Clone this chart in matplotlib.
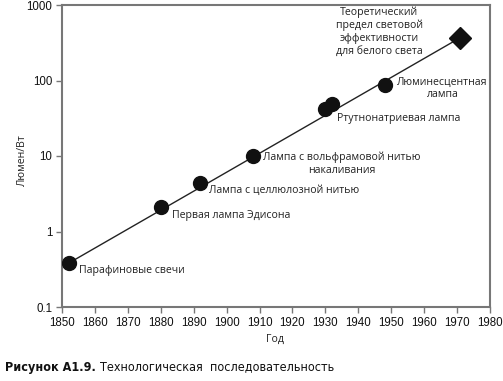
import matplotlib
matplotlib.use("Agg")
import matplotlib.pyplot as plt
import numpy as np

years = [1852, 1880, 1892, 1908, 1930, 1932, 1948, 1971]
lumens = [0.38, 2.1, 4.4, 10, 42, 49, 87, 370]
labels = ["Парафиновые свечи", "Первая лампа Эдисона", "Лампа с целлюлозной нитью",
          "Лампа с вольфрамовой нитью\nнакаливания", "", "Ртутнонатриевая лампа",
          "Люминесцентная\nлампа",
          "Теоретический\nпредел световой\nэффективности\nдля белого света"]
xticks = list(range(1850, 1981, 10))
yticks = [0.1, 1, 10, 100, 1000]
ytick_labels = ["0.1", "1", "10", "100", "1000"]

# label placement (offset pixels, alignment)
label_style = [
    (10, -7, "left"), (11, -8, "left"), (9, -8, "left"), (89, -7.5, "center"),
    (0, 0, "left"), (5, -15, "left"), (58, -3.5, "center"), (-81, 6, "center"),
]

fig = plt.figure(figsize=(5.03, 3.81), dpi=100)
ax = fig.add_axes([62/503, 1-307/381, (490-62)/503, (307-5)/381])

lab_font = ["Open Sans", "DejaVu Sans"]
tick_font = ["Liberation Sans", "DejaVu Sans"]

ax.plot([years[0], years[-1]], [lumens[0], lumens[-1]], color="#222222", lw=1.0, zorder=1)
ax.plot(years[:-1], lumens[:-1], "o", color="#111111", ms=10, zorder=3)
ax.plot(years[-1:], lumens[-1:], "D", color="#111111", ms=11, zorder=3)

for x, y, t, (dx, dy, ha) in zip(years, lumens, labels, label_style):
    if t:
        ax.annotate(t, (x, y), xytext=(dx, dy), textcoords="offset pixels",
                    ha=ha, va="center", fontsize=7.6, family=lab_font,
                    color="#222222", linespacing=1.2)

ax.set_yscale("log")
ax.set_xlim(1850, 1980)
ax.set_ylim(0.1, 1000)
ax.set_xticks(xticks)
ax.set_xticklabels([str(v) for v in xticks], family=tick_font, fontsize=8.3, color="#111111")
ax.set_yticks(yticks)
ax.set_yticklabels(ytick_labels, family=tick_font, fontsize=8.3, color="#111111")
ax.yaxis.set_minor_locator(matplotlib.ticker.NullLocator())
ax.tick_params(axis="both", length=4, width=1, color="#777777", direction="out", pad=3)

for s in ax.spines.values():
    s.set_color("#777777")
    s.set_linewidth(1.5)

fig.text(22/503, 1-160/381, "Люмен/Вт", rotation=90, ha="center", va="center",
         fontsize=7.6, family=lab_font, color="#222222")
fig.text(275/503, 1-339/381, "Год", ha="center", va="center",
         fontsize=7.6, family=lab_font, color="#222222")
fig.text(5/503, 1-367/381, "Рисунок А1.9.", ha="left", va="center",
         fontsize=9, fontweight="bold", family=["DejaVu Sans"], fontstretch="condensed",
         color="#111111")
fig.text(100/503, 1-367/381, "Технологическая  последовательность", ha="left", va="center",
         fontsize=9, family=["DejaVu Sans"], fontstretch="condensed", color="#111111")

fig.savefig("out.png", dpi=100)
